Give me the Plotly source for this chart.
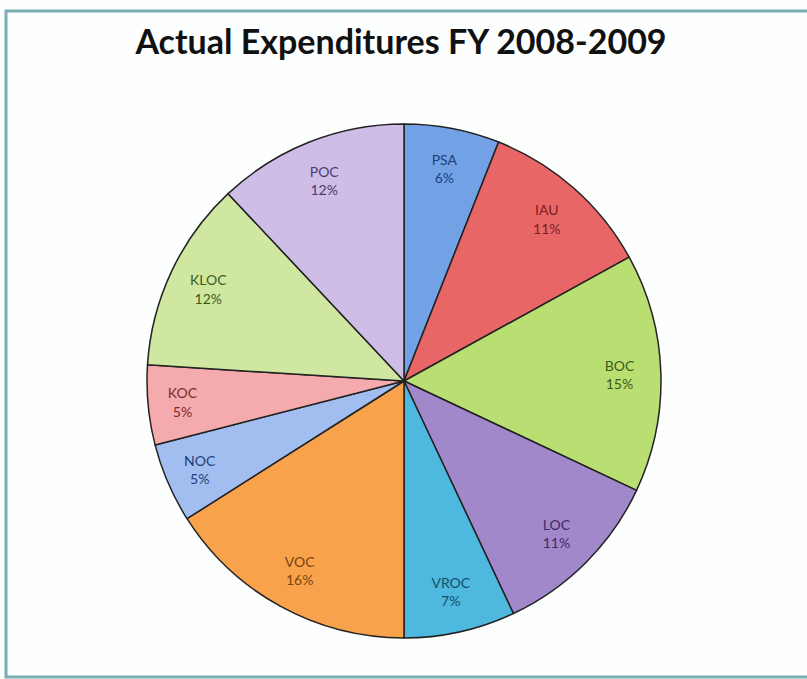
import plotly.graph_objects as go

labels = ["PSA", "IAU", "BOC", "LOC", "VROC", "VOC", "NOC", "KOC", "KLOC", "POC"]
values = [6, 11, 15, 11, 7, 16, 5, 5, 12, 12]
colors = ["#72a1e6", "#e96666", "#b9de72", "#a188cb", "#4fb8de",
          "#f9a24c", "#a2bdef", "#f5abad", "#cfe7a0", "#cdbde7"]
text_colors = ["#1f3f78", "#7a1f1f", "#3f5a17", "#3f2a66", "#12506a",
               "#7a4410", "#1f3f78", "#7a2a2c", "#3f5a17", "#4a3a70"]

W, H = 807, 679
cx, cy, r = 404, 381, 257
dom = dict(x=[(cx - r) / W, (cx + r) / W], y=[1 - (cy + r) / H, 1 - (cy - r) / H])

# filled slices
fig = go.Figure(go.Pie(
    labels=labels, values=values, sort=False, direction="clockwise", rotation=0,
    marker=dict(colors=colors, line=dict(color="#222222", width=1.5)),
    textinfo="none", showlegend=False, hoverinfo="label+percent", domain=dom,
))
# label layer (ring, transparent) to push labels toward the rim
fig.add_trace(go.Pie(
    labels=labels, values=values, sort=False, direction="clockwise", rotation=0,
    hole=0.68,
    marker=dict(colors=["rgba(0,0,0,0)"] * len(labels), line=dict(width=0)),
    texttemplate="%{label}<br>%{value}%", textposition="inside",
    insidetextorientation="horizontal",
    textfont=dict(family="Lato, Open Sans, sans-serif", size=14, color=text_colors),
    showlegend=False, hoverinfo="skip", domain=dom,
))

fig.update_layout(
    width=W, height=H, margin=dict(l=0, r=0, t=0, b=0),
    paper_bgcolor="#fdfefe", plot_bgcolor="#fdfefe",
    title=dict(text="<b>Actual Expenditures FY 2008-2009</b>", x=401 / W, xanchor="center",
               y=1 - 42 / H, yanchor="middle",
               font=dict(family="Lato, Open Sans, sans-serif", size=34, color="#111111")),
    uniformtext=dict(minsize=14, mode="show"),
    shapes=[dict(type="rect", xref="paper", yref="paper",
                 x0=6 / W, x1=1.05, y0=1 - 677 / H, y1=1 - 11 / H,
                 line=dict(color="#7aaeb0", width=3))],
)

fig.write_html("out.html", config={"displayModeBar": False},
               post_script="document.body.style.margin='0';")
